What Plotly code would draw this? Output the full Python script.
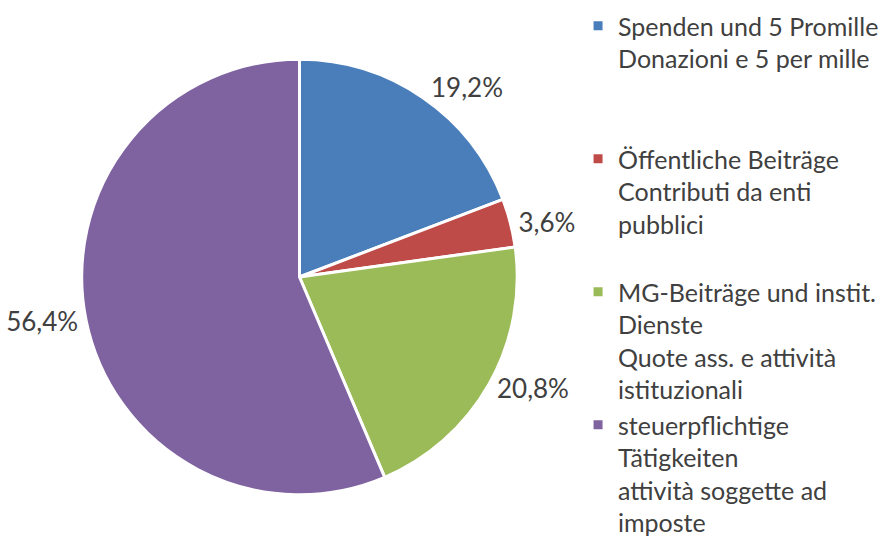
import plotly.graph_objects as go

labels = [
    "Spenden und 5 Promille<br>Donazioni e 5 per mille<br> <br> ",
    "Öffentliche Beiträge<br>Contributi da enti<br>pubblici<br> ",
    "MG-Beiträge und instit.<br>Dienste<br>Quote ass. e attività<br>istituzionali",
    "steuerpflichtige<br>Tätigkeiten<br>attività soggette ad<br>imposte",
]
values = [19.2, 3.6, 20.8, 56.4]
colors = ["#4A7EBB", "#BE4B48", "#9BBB59", "#7F62A0"]

fig = go.Figure(go.Pie(
    labels=labels,
    values=values,
    sort=False,
    direction="clockwise",
    rotation=0,
    marker=dict(colors=colors, line=dict(color="white", width=3)),
    textposition="outside",
    texttemplate="%{value:.1f}%",
    textfont=dict(family="Lato", size=26, color="#404040"),
    domain=dict(x=[66/888, 510/888], y=[47/545, 489/545]),
    hoverinfo="skip",
))

fig.update_layout(
    width=888, height=545,
    margin=dict(l=0, r=0, t=0, b=0),
    paper_bgcolor="white",
    plot_bgcolor="white",
    separators=",.",
    font=dict(family="Lato", color="#404040"),
    legend=dict(
        x=572/888, y=1 - 5/545, xanchor="left", yanchor="top",
        font=dict(family="Lato", size=25, color="#404040"),
        valign="top",
        itemwidth=30,
    ),
)

fig.write_html("out.html", config={"displayModeBar": False},
               post_script="document.body.style.margin='0';")
